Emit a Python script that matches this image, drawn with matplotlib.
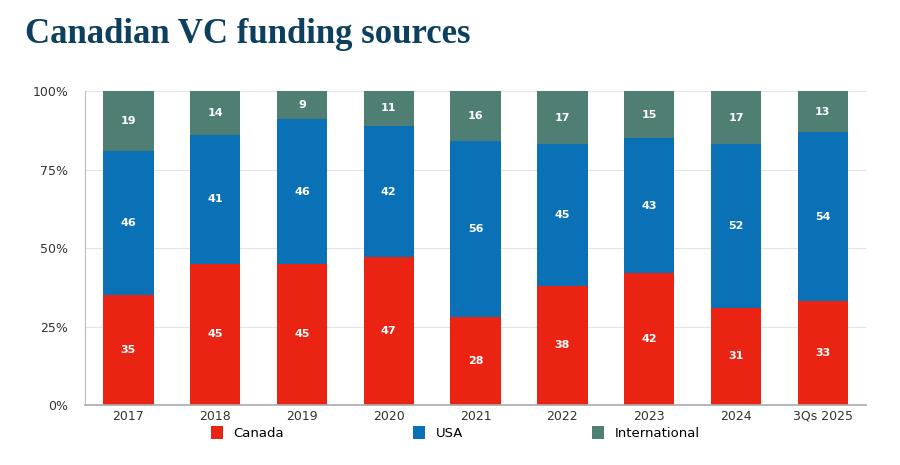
import numpy as np
import matplotlib.pyplot as plt

years = ['2017', '2018', '2019', '2020', '2021', '2022', '2023', '2024', '3Qs 2025']
canada = [35, 45, 45, 47, 28, 38, 42, 31, 33]
usa = [46, 41, 46, 42, 56, 45, 43, 52, 54]
international = [19, 14, 9, 11, 16, 17, 15, 17, 13]

colors = ['#EA2312', '#0A71B7', '#4F7F74']

fig = plt.figure(figsize=(9, 4.65), dpi=100)
ax = fig.add_axes([0.0944, 0.129, 0.868, 0.675])

x = np.arange(len(years))
w = 0.58
bottom = np.zeros(len(years))
for vals, col, name in zip([canada, usa, international], colors, ['Canada', 'USA', 'International']):
    ax.bar(x, vals, w, bottom=bottom, color=col, label=name, zorder=2)
    for xi, b, v in zip(x, bottom, vals):
        ax.text(xi, b + v / 2, str(v), ha='center', va='center', color='white',
                fontsize=8, fontweight='bold', zorder=3)
    bottom += np.array(vals)

ax.set_xlim(-0.5, len(years) - 0.5)
ax.set_ylim(0, 100)
ax.set_yticks([0, 25, 50, 75, 100])
ax.set_yticklabels(['0%', '25%', '50%', '75%', '100%'])
ax.set_xticks(x)
ax.set_xticklabels(years)
ax.tick_params(length=0, labelsize=9, colors='#333333')
ax.tick_params(axis='y', pad=12)
ax.grid(axis='y', color='#e4e4e4', linewidth=0.8, zorder=0)
for s in ['top', 'right']:
    ax.spines[s].set_visible(False)
ax.spines['left'].set_color('#bbbbbb')
ax.spines['bottom'].set_color('#aaaaaa')
ax.spines['bottom'].set_linewidth(1.2)

ax.legend(loc='upper center', bbox_to_anchor=(0.474, -0.03), ncol=3, frameon=False,
          fontsize=9.5, handlelength=0.9, handleheight=1.1, columnspacing=9.8, handletextpad=0.8)

fig.text(0.028, 0.9075, 'Canadian VC funding sources', fontsize=25, family='Liberation Serif',
         fontweight='bold', color='#0D3F5F', va='baseline')

fig.savefig('out.png', dpi=100)
